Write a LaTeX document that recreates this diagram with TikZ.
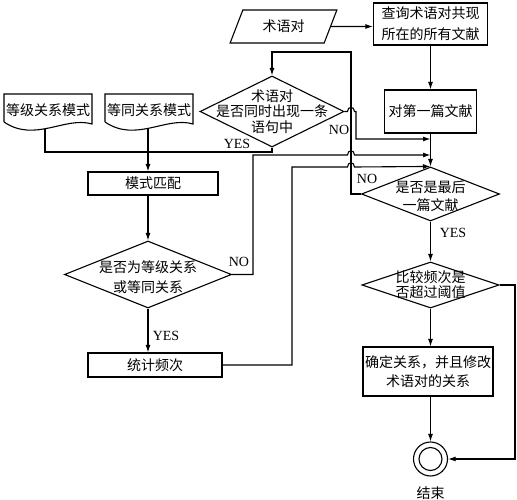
\documentclass[tikz,border=0pt]{standalone}
\usepackage{fontspec}
\setmainfont{Liberation Serif}
\newfontfamily\cjk{Noto Sans CJK SC}
\usetikzlibrary{shapes.geometric,arrows.meta}
\begin{document}
\begin{tikzpicture}[x=1pt,y=-1pt, line width=1.1pt,
  arr/.style={-{Latex[length=7.5pt,width=5pt]}},
  cn/.style={font=\cjk\fontsize{14}{17}\selectfont, inner sep=0pt, align=center},
  lab/.style={font=\fontsize{14}{16}\selectfont, inner sep=0pt},
  boxn/.style={draw, rectangle, inner sep=0pt, align=center, font=\cjk\fontsize{14}{20}\selectfont},
  dia/.style={draw, diamond, inner sep=0pt},
]
\fill[white] (0,0) rectangle (517,500);
\useasboundingbox (0,0) rectangle (517,500);

% right column
\node[draw, trapezium, trapezium left angle=63, trapezium right angle=117,
      trapezium stretches=true, minimum width=107, minimum height=33, cn] (in) at (283.5,26.5) {术语对};
\node[boxn, minimum width=114, minimum height=42, font=\cjk\fontsize{14}{21}\selectfont] (q) at (430.5,24) {查询术语对共现\\所在的所有文献};
\node[boxn, minimum width=92, minimum height=43] (first) at (430.5,111.5) {对第一篇文献};
\node[dia, minimum width=138, minimum height=54,
      label={[cn, font=\cjk\fontsize{14}{18}\selectfont, yshift=-2pt]center:{是否是最后\\一篇文献}}] (last) at (430.5,194) {};
\node[dia, minimum width=137, minimum height=46,
      label={[cn, font=\cjk\fontsize{14}{15}\selectfont]center:{比较频次是\\否超过阈值}}] (cmp) at (430.5,285) {};
\node[boxn, minimum width=130, minimum height=49, font=\cjk\fontsize{14}{19}\selectfont] (rel) at (428,371.5) {确定关系，并且修改\\术语对的关系};
\node[draw, circle, minimum size=34, inner sep=0pt] (endc) at (430.5,459) {};
\node[draw, circle, minimum size=23, inner sep=0pt] (endi) at (endc) {};
\node[cn] (endt) at (430.5,493) {结束};

% middle diamond
\node[dia, minimum width=144, minimum height=71,
      label={[cn, font=\cjk\fontsize{14}{15.5}\selectfont]center:{术语对\\是否同时出现一条\\语句中}}] (tq) at (272,111.5) {};

% documents
\draw (4,122) -- (4,94) -- (92,94) -- (92,124) .. controls (65,116) and (35,143) .. (4,122);
\node[cn] (d1) at (48,110) {等级关系模式};
\draw (105,122) -- (105,94) -- (193,94) -- (193,124) .. controls (166,116) and (136,143) .. (105,122);
\node[cn] (d2) at (149,110) {等同关系模式};
\coordinate (d1b) at (45,129.5);
\coordinate (d2b) at (148,129.5);

% left column
\node[boxn, minimum width=130, minimum height=23] (match) at (153,183.5) {模式匹配};
\node[dia, minimum width=167, minimum height=67,
      label={[cn, font=\cjk\fontsize{14}{20}\selectfont, yshift=-3pt]center:{是否为等级关系\\或等同关系}}] (dj) at (148,274.5) {};
\node[boxn, minimum width=134, minimum height=24] (count) at (155,365) {统计频次};

% connectors
\draw[arr] (in) -- (q.west |- in);
\draw[arr] (q) -- (first);
\draw[arr] (first) -- (last);
\draw[arr] (last) -- (cmp);
\draw[arr] (cmp.south) -- (cmp.south |- rel.north);
\draw[arr] (rel.south -| endc) -- (endc);
\coordinate (rr) at (515,285);
\draw[arr] (cmp.east) -- (rr) |- (endc);

\coordinate (m1) at (430.5,139);
\draw[arr] (tq.east) -- (347.5,111.5) .. controls (347.5,106) and (354.5,106) .. (354.5,111.5) -- (356,111.5) -- (356,139) -- (m1);

\draw (tq.south) -- (272,152) -- (45,152) -- (d1b);
\draw[arr] (d2b) -- (d2b |- match.north);
\draw[arr] (d2b |- match.south) -- (dj.north);
\draw[arr] (dj) -- (dj.south |- count.north);

\coordinate (m2) at (430.5,155);
\draw[arr] (dj.east) -- (253,274.5) -- (253,155) -- (347.5,155) .. controls (347.5,149.5) and (354.5,149.5) .. (354.5,155) -- (m2);
\draw[arr] (count.east) -- (292,365) -- (292,167) -- (347.5,167) .. controls (347.5,161.5) and (354.5,161.5) .. (354.5,167) -- (last.north);
\draw[arr] (last.west) -- (351,194) -- (351,52) -- (272,52) -- (tq.north);

% labels
\node[lab] (no1) at (339,130) {NO};
\node[lab] (no2) at (367,179) {NO};
\node[lab] (no3) at (239,262) {NO};
\node[lab] (yes1) at (237,144) {YES};
\node[lab] (yes2) at (453,233) {YES};
\node[lab] (yes3) at (166,336) {YES};
\end{tikzpicture}
\end{document}
